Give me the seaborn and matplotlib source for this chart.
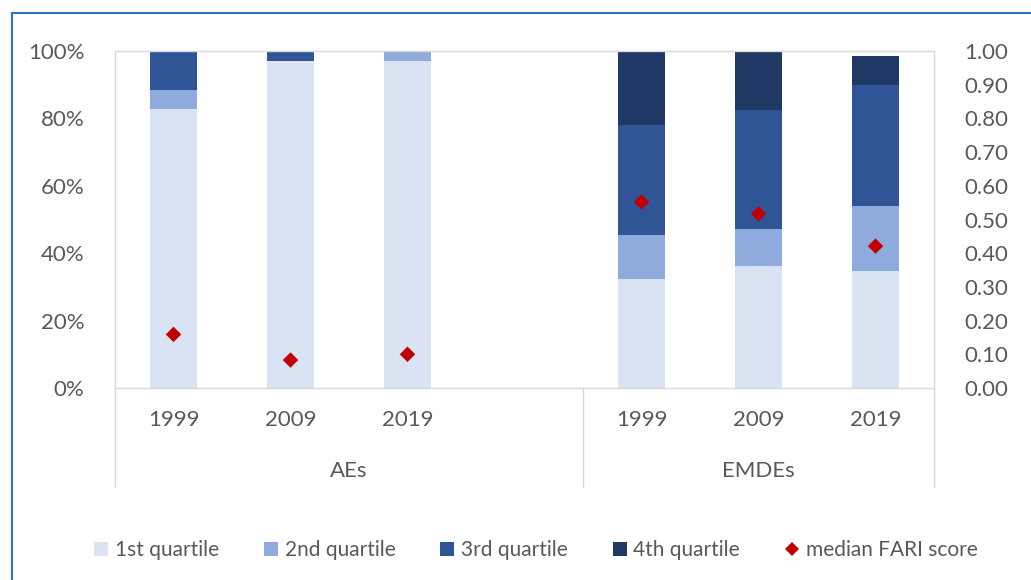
import numpy as np
import pandas as pd
import seaborn as sns
import matplotlib.pyplot as plt
from matplotlib.lines import Line2D
from matplotlib.patches import Rectangle
import matplotlib.transforms as mtransforms

# data
groups = ["AEs", "AEs", "AEs", "EMDEs", "EMDEs", "EMDEs"]
years = ["1999", "2009", "2019", "1999", "2009", "2019"]
pos = [0, 1, 2, 4, 5, 6]  # slot 3 left empty between the groups
q1 = [82.7, 97.1, 97.1, 32.3, 36.3, 34.8]
q2 = [5.7, 0.0, 2.9, 13.2, 11.0, 19.2]
q3 = [11.6, 2.9, 0.0, 32.5, 35.2, 35.8]
q4 = [0.0, 0.0, 0.0, 22.0, 17.5, 8.8]
fari = [0.159, 0.083, 0.100, 0.552, 0.517, 0.421]

quart_names = ["1st quartile", "2nd quartile", "3rd quartile", "4th quartile"]
quart_colors = ["#DAE3F3", "#8FAADC", "#2F5597", "#203864"]
red = "#C00000"
grey = "#595959"

df = pd.DataFrame({"group": groups, "year": years, "pos": pos,
                   "q1": q1, "q2": q2, "q3": q3, "q4": q4, "fari": fari})
cum = df[["q1", "q2", "q3", "q4"]].cumsum(axis=1)

sns.set_style("white")
plt.rcParams["font.family"] = ["Lato", "DejaVu Sans"]

fig = plt.figure(figsize=(10.31, 5.8), dpi=100)
W, H = 1031, 580
ax = fig.add_axes([115 / W, 1 - 388 / H, (934 - 115) / W, (388 - 51) / H])

# stacked bars: draw cumulative heights from top layer down
for col, c in zip(["q4", "q3", "q2", "q1"], quart_colors[::-1]):
    sns.barplot(x=df["pos"], y=cum[col], native_scale=True, color=c,
                saturation=1, width=0.4, linewidth=0, ax=ax)

ax.set_xlim(-0.5, 6.5)
ax.set_ylim(0, 100)
ax.set_yticks(np.arange(0, 101, 20))
ax.set_yticklabels([f"{v}%" for v in range(0, 101, 20)])
ax.set_xticks(pos)
ax.set_xticklabels(years)
ax.set_xlabel("")
ax.set_ylabel("")
ax.tick_params(axis="both", length=0, labelsize=16, colors=grey)
ax.tick_params(axis="y", pad=22)
ax.tick_params(axis="x", pad=16)
for s in ax.spines.values():
    s.set_color("#D9D9D9")
    s.set_linewidth(1)

# second axis for FARI score
ax2 = ax.twinx()
sns.scatterplot(x=df["pos"], y=df["fari"], marker="D", s=62, color=red,
                edgecolor="none", ax=ax2, zorder=5)
ax2.set_ylim(0, 1)
ax2.set_yticks(np.arange(0, 1.01, 0.1))
ax2.set_yticklabels([f"{v:.2f}" for v in np.arange(0, 1.01, 0.1)])
ax2.set_ylabel("")
ax2.tick_params(axis="y", length=0, labelsize=16, colors=grey, pad=22)
for s in ax2.spines.values():
    s.set_visible(False)

# group dividers and labels under the axis
trans = mtransforms.blended_transform_factory(ax.transData, ax.transAxes)
for xv in [-0.5, 3.5, 6.5]:
    ax.add_line(Line2D([xv, xv], [0, -0.294], transform=trans, color="#D9D9D9",
                       lw=1, clip_on=False))
for name, xc in [("AEs", 1.5), ("EMDEs", 5.0)]:
    ax.text(xc, -0.245, name, transform=trans, ha="center", va="center",
            fontsize=16, color=grey)

# legend
handles = [Line2D([], [], marker="s", ls="none", markersize=9.5, color=c,
                  markeredgewidth=0) for c in quart_colors]
handles.append(Line2D([], [], marker="D", ls="none", markersize=7, color=red,
                      markeredgewidth=0))
fig.legend(handles, quart_names + ["median FARI score"], loc="center",
           bbox_to_anchor=(0.518, 0.052), ncol=5, frameon=False, fontsize=15,
           labelcolor=grey, handletextpad=0.15, columnspacing=2.0, handlelength=1)

# outer blue frame
fig.patches.append(Rectangle((12 / W, -0.1), 1.2, 1 - 13 / H + 0.1,
                             transform=fig.transFigure, fill=False,
                             edgecolor="#2E75B6", lw=1.5))

fig.savefig("out.png", dpi=100)
